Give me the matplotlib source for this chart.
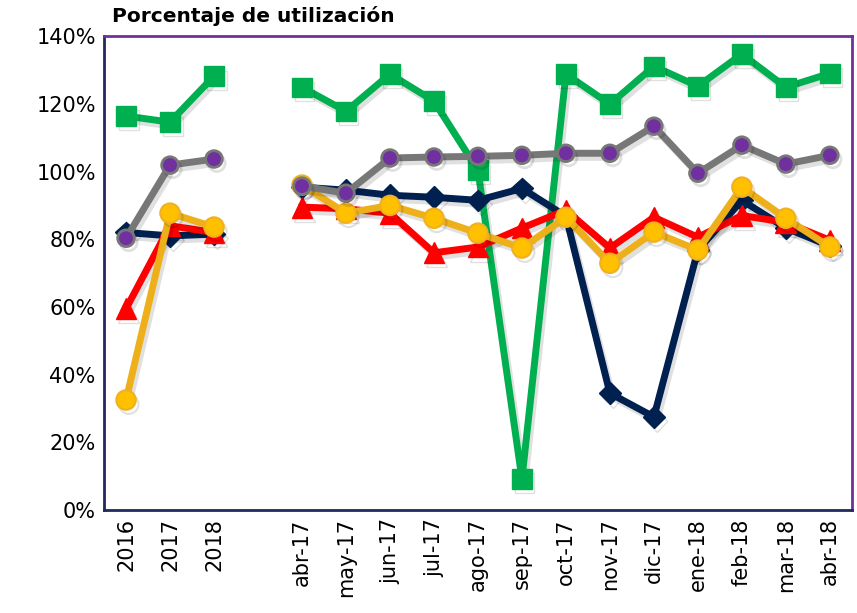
import numpy as np
import matplotlib
matplotlib.use("Agg")
import matplotlib.pyplot as plt
import matplotlib.patheffects as pe

nan = np.nan

# categories (blank slot separates yearly and monthly values)
categories = ["2016", "2017", "2018", "",
              "abr-17", "may-17", "jun-17", "jul-17", "ago-17", "sep-17",
              "oct-17", "nov-17", "dic-17", "ene-18", "feb-18", "mar-18", "abr-18"]

verde = [116.4, 114.6, 128.2, nan, 124.9, 117.8, 128.8, 120.8, 100.4, 9.2,
         128.8, 119.9, 131.1, 125.2, 134.7, 124.9, 129.0]
azul = [82.0, 81.0, 81.5, nan, 95.4, 94.5, 93.0, 92.4, 91.5, 95.0,
        86.8, 34.5, 27.5, 76.8, 91.5, 83.3, 78.0]
rojo = [59.5, 84.0, 82.0, nan, 89.5, 89.0, 87.7, 76.0, 77.7, 83.3,
        88.6, 77.4, 86.5, 80.6, 87.0, 85.0, 79.7]
amarillo = [32.5, 87.7, 83.6, nan, 96.0, 87.7, 90.0, 86.2, 81.8, 77.4,
            86.5, 72.9, 82.1, 76.8, 95.4, 86.2, 77.7]
gris = [80.3, 101.9, 103.7, nan, 95.7, 93.6, 104.0, 104.3, 104.5, 104.8,
        105.4, 105.4, 113.4, 99.5, 107.8, 102.2, 104.8]

x = np.arange(len(categories))

fig = plt.figure(figsize=(8.57, 6.13), dpi=100)
ax = fig.add_axes([0.1214, 0.168, 0.8726, 0.773])

# soft drop shadow like the original
shadow = [pe.SimpleLineShadow(offset=(2, -3), shadow_color="black", alpha=0.12), pe.Normal()]

ax.plot(x, verde, color="#00B050", lw=5, marker="s", ms=14, mfc="#00B050", mec="#00B050",
        path_effects=shadow, zorder=2)
ax.plot(x, azul, color="#002050", lw=5, marker="D", ms=11, mfc="#002050", mec="#002050",
        path_effects=shadow, zorder=3)
ax.plot(x, rojo, color="#FF0000", lw=5, marker="^", ms=15, mfc="#FF0000", mec="#FF0000",
        path_effects=shadow, zorder=4)
ax.plot(x, amarillo, color="#EEB01A", lw=5, marker="o", ms=14, mfc="#FFC000", mec="#F0B020",
        mew=1.5, path_effects=shadow, zorder=5)
ax.plot(x, gris, color="#777777", lw=5, marker="o", ms=12, mfc="#7030A0", mec="#777777",
        mew=2, path_effects=shadow, zorder=6)

ax.set_xlim(-0.5, len(categories) - 0.5)
ax.set_ylim(0, 140)
ax.set_yticks(np.arange(0, 141, 20))
ax.set_yticklabels([f"{v}%" for v in range(0, 141, 20)], fontsize=15)
ax.set_xticks(x)
ax.set_xticklabels(categories, rotation=90, fontsize=15)
ax.tick_params(length=0, pad=6)

ax.spines["left"].set_color("#1F2A5C")
ax.spines["bottom"].set_color("#1F2A5C")
ax.spines["top"].set_color("#7030A0")
ax.spines["right"].set_color("#7030A0")
for s in ax.spines.values():
    s.set_linewidth(2)

fig.text(112 / 857, 1 - 16 / 613, "Porcentaje de utilización", fontsize=14.5,
         fontweight="bold", ha="left", va="center")

fig.savefig("out.png", dpi=100)
